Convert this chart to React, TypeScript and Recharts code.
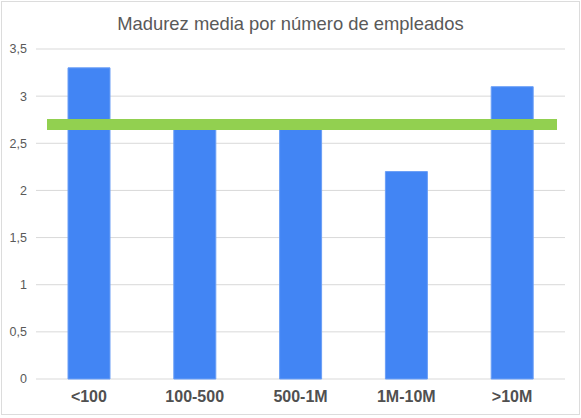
import { BarChart, Bar, XAxis, YAxis, CartesianGrid, ReferenceLine } from "recharts";

const categories = ["<100", "100-500", "500-1M", "1M-10M", ">10M"];
const madurez = [3.3, 2.7, 2.7, 2.2, 3.1];
const media = 2.7;
const yTicks = [0, 0.5, 1, 1.5, 2, 2.5, 3, 3.5];

const data = categories.map((name, i) => ({ name, madurez: madurez[i] }));

const fmt = (v: number) => String(v).replace(".", ",");

function MediaLine(props: any) {
  const { x1, x2, y1 } = props;
  return (
    <line x1={x1 + 11} x2={x2 - 8} y1={y1} y2={y1} stroke="#92d050" strokeWidth={11} />
  );
}

export default function App() {
  return (
    <div
      style={{
        position: "absolute",
        left: 0,
        top: 0,
        width: 581,
        height: 418,
        background: "#fff",
        fontFamily: "'Liberation Sans', Arial, sans-serif",
      }}
    >
      <div
        style={{
          position: "absolute",
          left: 1,
          top: 1,
          width: 579,
          height: 414,
          border: "1px solid #dcdcdc",
          boxSizing: "border-box",
        }}
      />
      <div
        style={{
          position: "absolute",
          left: 0,
          top: 14,
          width: 581,
          textAlign: "center",
          fontSize: 18.4,
          lineHeight: "19px",
          color: "#595959",
        }}
      >
        Madurez media por número de empleados
      </div>
      <div style={{ position: "absolute", left: 0, top: 0 }}>
        <BarChart
          width={581}
          height={418}
          data={data}
          margin={{ top: 49, right: 16, bottom: 0, left: 0 }}
          barCategoryGap={0}
        >
          <CartesianGrid vertical={false} stroke="#d9d9d9" />
          <XAxis
            dataKey="name"
            axisLine={false}
            tickLine={false}
            height={39}
            tickMargin={6}
            tick={{ fill: "#505050", fontSize: 16, fontWeight: "bold" }}
          />
          <YAxis
            domain={[0, 3.5]}
            ticks={yTicks}
            width={36}
            axisLine={false}
            tickLine={false}
            tickMargin={3}
            tickFormatter={fmt}
            tick={{ fill: "#595959", fontSize: 12.5 }}
          />
          <Bar
            dataKey="madurez"
            fill="#4285f4"
            stroke="#6a9ef6"
            strokeWidth={1}
            barSize={42}
            isAnimationActive={false}
          />
          <ReferenceLine y={media} shape={MediaLine} />
        </BarChart>
      </div>
    </div>
  );
}
